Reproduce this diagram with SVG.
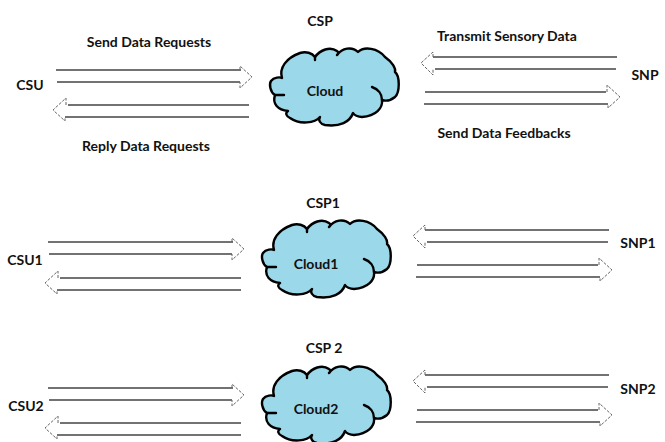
<svg xmlns="http://www.w3.org/2000/svg" width="665" height="442" viewBox="0 0 665 442">
<defs>
<path id="cloud" d="M282 78C279 68 286 58 300 53C306 51 312 53 315 57C320 50 330 46 337 51C340 53 337 55 337 55C342 48 352 46 358 52C364 46 378 48 385 57C392 62 396 68 395 72C400 76 400 92 395 97C390 101 385 101 382 100C383 108 376 116 362 117C358 117 354 115 353 113C350 122 340 127 325 125C320 124 318 120 320 117C315 123 300 125 290 118C286 116 285 113 288 111C278 110 272 104 275 95C270 92 269 84 271 81C274 77 280 77 282 78Z"/>
<path id="cloudInner" d="M372 87C378 89 382 94 382 100M275 95C278 95 281 95 284 95M315 57C315 58 315 60 315 60"/>
</defs>
<style>
.cloud{fill:#9ad8ea;stroke:#000;stroke-width:2.4;stroke-linejoin:round}
.inner{fill:none;stroke:#000;stroke-width:2.4;stroke-linecap:round}
.shaft{fill:none;stroke:#444;stroke-width:1.4}
.head{fill:none;stroke:#666;stroke-width:1;stroke-dasharray:3 1.5}
text{font-family:"Lato","Liberation Sans",sans-serif;font-weight:700;font-size:14px;fill:#111;text-anchor:middle}
</style>
<rect width="665" height="442" fill="#fff"/>
<g id="connectors">
<g id="row1">
<path class="shaft" d="M56 70H241M57 82H240M68 105H249M65 117H249M433 57H617M435 69H616M425 92H606M424 104H608"/>
<path class="head" d="M240 70V66L252 77L240 88V82M66 105V98L53 110L65 121V117M433 57V52L421 63L433 75V69M607 92V85L620 97L608 108V104"/>
</g>
<g id="row2">
<path class="shaft" d="M48 242H233M49 254H232M60 278H241M57 290H241M425 230H609M427 242H608M417 265H598M416 277H600"/>
<path class="head" d="M232 242V238L244 249L232 260V254M58 278V271L45 283L57 294V290M425 230V225L413 236L425 248V242M599 265V258L612 270L600 281V277"/>
</g>
<g id="row3">
<path class="shaft" d="M48 388H233M49 400H232M60 423H241M57 435H241M425 375H609M427 387H608M417 410H598M416 422H600"/>
<path class="head" d="M232 388V384L244 395L232 406V400M58 423V416L45 428L57 439V435M425 375V370L413 381L425 393V387M599 410V403L612 415L600 426V422"/>
</g>
</g>
<g id="csu"><text x="30" y="90">CSU</text></g>
<g id="csu1"><text x="25" y="265">CSU1</text></g>
<g id="csu2"><text x="26" y="411">CSU2</text></g>
<g id="snp"><text x="645" y="80">SNP</text></g>
<g id="snp1"><text x="638" y="248">SNP1</text></g>
<g id="snp2"><text x="638" y="394">SNP2</text></g>
<g id="csp"><text x="320" y="26">CSP</text></g>
<g id="csp1"><text x="323" y="208">CSP1</text></g>
<g id="csp2"><text x="324" y="353">CSP 2</text></g>
<g id="cloud0"><use href="#cloud" class="cloud"/><use href="#cloudInner" class="inner"/><text x="325" y="96">Cloud</text></g>
<g id="cloud1"><use href="#cloud" class="cloud" transform="translate(-8 172)"/><use href="#cloudInner" class="inner" transform="translate(-8 172)"/><text x="316" y="269">Cloud1</text></g>
<g id="cloud2"><use href="#cloud" class="cloud" transform="translate(-8 318)"/><use href="#cloudInner" class="inner" transform="translate(-8 318)"/><text x="316" y="414">Cloud2</text></g>
<g id="labels">
<text x="149" y="47">Send Data Requests</text>
<text x="146" y="151">Reply Data Requests</text>
<text x="507" y="41">Transmit Sensory Data</text>
<text x="504" y="138">Send Data Feedbacks</text>
</g>
</svg>
